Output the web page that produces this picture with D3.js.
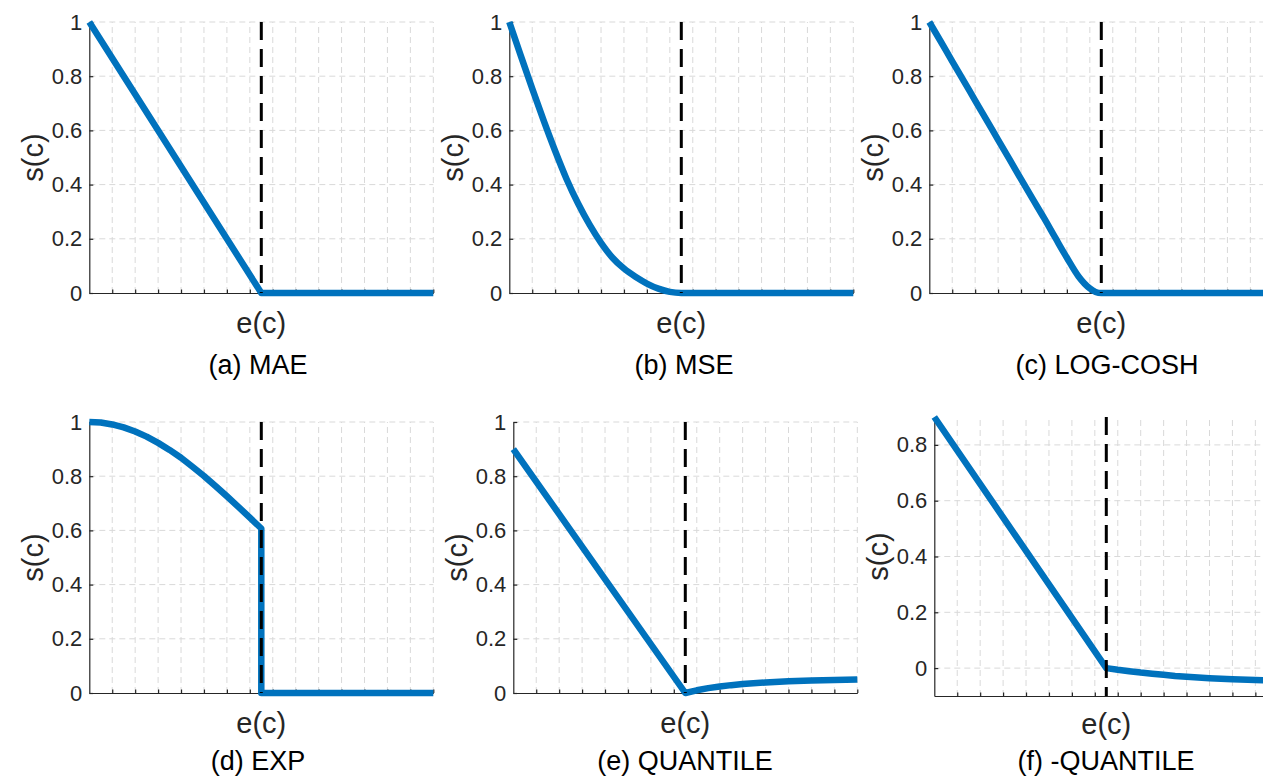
<!DOCTYPE html>
<html>
<head>
<meta charset="utf-8">
<script src="https://cdn.jsdelivr.net/npm/d3@7"></script>
<style>
  html, body { margin: 0; padding: 0; background: #ffffff; }
  svg { display: block; }
  text { font-family: "Liberation Sans", Arial, Helvetica, sans-serif; }
</style>
</head>
<body>
<svg id="fig" width="1263" height="776"></svg>
<script>
// ---- data -------------------------------------------------------------
const captions = ["(a) MAE", "(b) MSE", "(c) LOG-COSH", "(d) EXP", "(e) QUANTILE", "(f) -QUANTILE"];
const xLabelText = "e(c)";
const yLabelText = "s(c)";

const xDomain = [0, 15];
const threshold = 7.5;
const xMinorTicks = [1, 2, 3, 4, 5, 6, 7, 8, 9, 10, 11, 12, 13, 14, 15];

const yTicksUnit = [0, 0.2, 0.4, 0.6, 0.8, 1];
const yTickLabelsUnit = ["0", "0.2", "0.4", "0.6", "0.8", "1"];
const yTicksShifted = [0, 0.2, 0.4, 0.6, 0.8];
const yTickLabelsShifted = ["0", "0.2", "0.4", "0.6", "0.8"];

// (a) MAE
const maeX = [0, 7.5, 15];
const maeY = [1, 0, 0];

// (b) MSE
const mseX = [0, 0.5, 1, 1.5, 2, 2.5, 3, 3.5, 4, 4.5, 5, 5.5, 6, 6.5, 7, 7.5, 15];
const mseY = [1.000, 0.876, 0.754, 0.636, 0.524, 0.420, 0.330, 0.252, 0.185, 0.130,
              0.090, 0.060, 0.035, 0.016, 0.004, 0, 0];

// (c) LOG-COSH
const logcoshX = [0, 0.5, 1, 1.5, 2, 2.5, 3, 3.5, 4, 4.5, 5, 5.5, 6, 6.5, 7, 7.25, 7.5, 15];
const logcoshY = [1.000, 0.928, 0.855, 0.783, 0.710, 0.638, 0.565, 0.493, 0.420, 0.348,
                  0.277, 0.203, 0.130, 0.062, 0.017, 0.004, 0, 0];

// (d) EXP
const expX = [0, 0.5, 1, 1.5, 2, 2.5, 3, 3.5, 4, 4.5, 5, 5.5, 6, 6.5, 7, 7.5, 7.5, 15];
const expY = [1.000, 0.998, 0.991, 0.980, 0.965, 0.946, 0.923, 0.897, 0.868, 0.835,
              0.801, 0.764, 0.726, 0.687, 0.647, 0.607, 0, 0];

// (e) QUANTILE
const quantileX = [0, 7.5, 8, 8.5, 9, 9.5, 10, 11, 12, 13, 14, 15];
const quantileY = [0.9, 0, 0.010, 0.018, 0.024, 0.029, 0.033, 0.039, 0.043, 0.046, 0.048, 0.050];

// (f) -QUANTILE
const negQuantileX = [0, 7.5, 8, 8.5, 9, 9.5, 10, 10.5, 11, 12, 13, 14, 15];
const negQuantileY = [0.9, 0, -0.006, -0.011, -0.016, -0.020, -0.024, -0.028, -0.031,
                      -0.036, -0.040, -0.043, -0.045];

// ---- layout -----------------------------------------------------------
const axesWidth = 344;
const panels = [
  { x0: 89.3,  top: 22,  bottom: 293, yDom: [0, 1],      xs: maeX,         ys: maeY,         ticks: yTicksUnit,    labels: yTickLabelsUnit,    smooth: false, capX: 258,  xlabY: 333, capY: 374 },
  { x0: 509.3, top: 22,  bottom: 293, yDom: [0, 1],      xs: mseX,         ys: mseY,         ticks: yTicksUnit,    labels: yTickLabelsUnit,    smooth: true,  capX: 684,  xlabY: 333, capY: 374 },
  { x0: 929.3, top: 22,  bottom: 293, yDom: [0, 1],      xs: logcoshX,     ys: logcoshY,     ticks: yTicksUnit,    labels: yTickLabelsUnit,    smooth: true,  capX: 1107, xlabY: 333, capY: 374 },
  { x0: 89.3,  top: 422, bottom: 693, yDom: [0, 1],      xs: expX,         ys: expY,         ticks: yTicksUnit,    labels: yTickLabelsUnit,    smooth: false, capX: 258,  xlabY: 733, capY: 770 },
  { x0: 513.3, top: 422, bottom: 693, yDom: [0, 1],      xs: quantileX,    ys: quantileY,    ticks: yTicksUnit,    labels: yTickLabelsUnit,    smooth: false, capX: 685,  xlabY: 733, capY: 770 },
  { x0: 934.3, top: 417, bottom: 696, yDom: [-0.1, 0.9], xs: negQuantileX, ys: negQuantileY, ticks: yTicksShifted, labels: yTickLabelsShifted, smooth: false, capX: 1106, xlabY: 734, capY: 770 }
];

const axisColor = "#262626";
const gridColor = "#d9d9d9";
const lineColor = "#0072BD";

const svg = d3.select("#fig");

panels.forEach((p, i) => {
  const x = d3.scaleLinear().domain(xDomain).range([p.x0, p.x0 + axesWidth]);
  const y = d3.scaleLinear().domain(p.yDom).range([p.bottom, p.top]);
  const g = svg.append("g");

  // grid: vertical lines at every minor tick, horizontal at the labelled ticks
  g.append("g").selectAll("line").data(xMinorTicks).join("line")
    .attr("x1", d => x(d)).attr("x2", d => x(d))
    .attr("y1", p.bottom).attr("y2", p.top)
    .attr("stroke", gridColor).attr("stroke-width", 1)
    .attr("stroke-dasharray", "6,4");
  g.append("g").selectAll("line").data(p.ticks.filter(t => t !== p.yDom[0])).join("line")
    .attr("x1", p.x0).attr("x2", p.x0 + axesWidth)
    .attr("y1", d => y(d)).attr("y2", d => y(d))
    .attr("stroke", gridColor).attr("stroke-width", 1)
    .attr("stroke-dasharray", "6,4");

  // x axis: line with inward minor ticks, no labels
  const xAxis = d3.axisBottom(x).tickValues(xMinorTicks).tickSize(-3.5).tickSizeOuter(0).tickFormat("");
  const gx = g.append("g").attr("transform", `translate(0,${p.bottom})`).call(xAxis);
  // y axis: inward ticks with labels
  const yAxis = d3.axisLeft(y).tickValues(p.ticks).tickSize(-4).tickSizeOuter(0)
    .tickFormat((d, k) => p.labels[k]).tickPadding(7);
  const gy = g.append("g").attr("transform", `translate(${p.x0},0)`).call(yAxis);

  [gx, gy].forEach(ax => {
    ax.select(".domain").attr("stroke", axisColor).attr("stroke-width", 1.2);
    ax.selectAll(".tick line").attr("stroke", axisColor).attr("stroke-width", 1.2);
  });
  gy.selectAll(".tick text")
    .attr("fill", axisColor)
    .style("font-size", "22px")
    .style("font-family", '"Liberation Sans", Arial, sans-serif');

  // data curve
  const line = d3.line()
    .x(d => x(d[0])).y(d => y(d[1]))
    .curve(p.smooth ? d3.curveMonotoneX : d3.curveLinear);
  g.append("path")
    .datum(p.xs.map((v, k) => [v, p.ys[k]]))
    .attr("d", line)
    .attr("fill", "none")
    .attr("stroke", lineColor)
    .attr("stroke-width", 6.5)
    .attr("stroke-linejoin", "round");

  // threshold marker
  g.append("line")
    .attr("x1", x(threshold)).attr("x2", x(threshold))
    .attr("y1", y(p.yDom[1])).attr("y2", y(p.yDom[0]))
    .attr("stroke", "#000000").attr("stroke-width", 3)
    .attr("stroke-dasharray", "18,9");

  // axis labels
  g.append("text")
    .attr("x", x((xDomain[0] + xDomain[1]) / 2)).attr("y", p.xlabY)
    .attr("text-anchor", "middle")
    .attr("fill", axisColor)
    .style("font-size", "29px")
    .text(xLabelText);
  g.append("text")
    .attr("transform", `translate(${p.x0 - 46},${(p.top + p.bottom) / 2}) rotate(-90)`)
    .attr("text-anchor", "middle")
    .attr("fill", axisColor)
    .style("font-size", "29px")
    .text(yLabelText);

  // caption
  g.append("text")
    .attr("x", p.capX).attr("y", p.capY)
    .attr("text-anchor", "middle")
    .attr("fill", "#000000")
    .style("font-size", "27px")
    .text(captions[i]);
});
</script>
</body>
</html>
